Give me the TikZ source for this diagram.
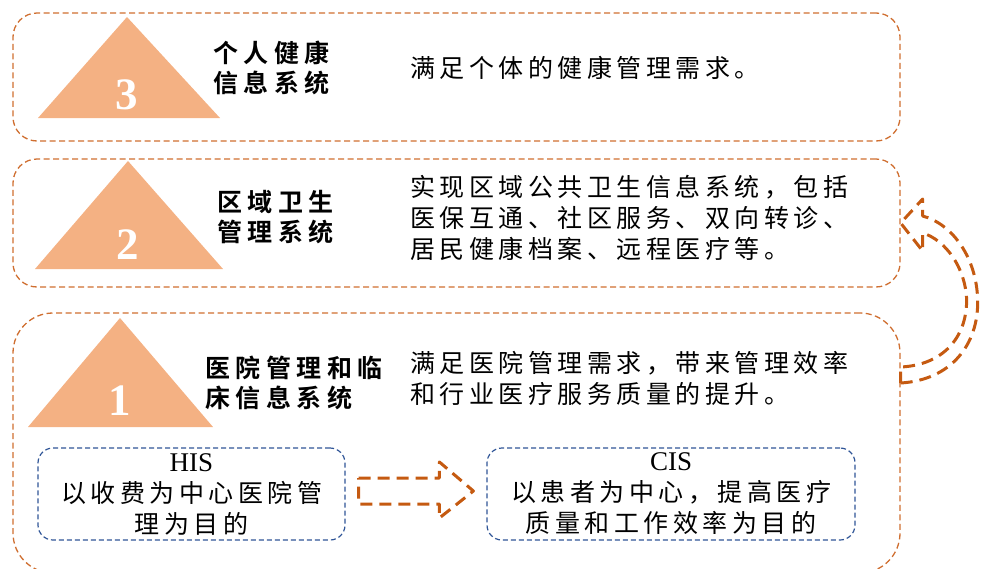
\documentclass[tikz,border=0pt]{standalone}
\usepackage{fontspec}
\setmainfont{Liberation Serif}
\newfontfamily\cjk[LetterSpace=18,BoldFont={Noto Sans CJK SC Bold}]{Noto Sans CJK SC}
\usetikzlibrary{calc}
\definecolor{boxline}{RGB}{207,110,48}
\definecolor{arrowline}{RGB}{197,90,17}
\definecolor{trifill}{RGB}{244,177,131}
\definecolor{blueline}{RGB}{47,85,151}

\begin{document}
\begin{tikzpicture}[x=1pt,y=-1pt,
  lvlbox/.style={draw=boxline,line width=1.3pt,dash pattern=on 6pt off 3.5pt,rounded corners=24pt},
  infobox/.style={draw=blueline,line width=1.2pt,dash pattern=on 5pt off 3pt,rounded corners=15pt,
    align=center,inner sep=0pt,font=\fontsize{27}{31}\selectfont},
  tri/.style={fill=trifill},
  num/.style={text=white,inner sep=0pt,font=\fontsize{45}{45}\selectfont\bfseries},
  title/.style={anchor=west,align=left,inner sep=0pt,font=\cjk\bfseries\addfontfeature{LetterSpace=22}\fontsize{25}{30}\selectfont},
  desc/.style={anchor=west,align=left,inner sep=0pt,font=\cjk\fontsize{25}{31}\selectfont},
  blockarrow/.style={draw=arrowline,line width=3pt,dash pattern=on 12pt off 7pt,line join=round}]

\useasboundingbox (0,0) rectangle (984,568);

% the three levels
\node [lvlbox,minimum width=887pt,minimum height=128pt] (lvl3) at (456.5,77) {};
\node [lvlbox,minimum width=887pt,minimum height=128pt] (lvl2) at (456.5,223) {};
\node [lvlbox,rounded corners=40pt,minimum width=887pt,minimum height=260pt] (lvl1) at (456.5,443) {};

\fill [tri] (38,118) -- (127,17) -- (220,118) -- cycle;
\fill [tri] (35,269) -- (128,161) -- (223,269) -- cycle;
\fill [tri] (28,427) -- (120,318) -- (213,427) -- cycle;

\node [num] (n3) at (127,95) {3};
\node [num] (n2) at (128,245) {2};
\node [num] (n1) at (120,401) {1};

\node [title] (t3) at (213,68) {个人健康\\信息系统};
\node [title] (t2) at (217,217) {区域卫生\\管理系统};
\node [title] (t1) at (205,383) {医院管理和临\\床信息系统};

\node [desc] (d3) at (410,68) {满足个体的健康管理需求。};
\node [desc] (d2) at (410,218) {实现区域公共卫生信息系统，包括\\医保互通、社区服务、双向转诊、\\居民健康档案、远程医疗等。};
\node [desc] (d1) at (410,378) {满足医院管理需求，带来管理效率\\和行业医疗服务质量的提升。};

% HIS and CIS
\node [infobox,minimum width=307pt,minimum height=92pt] (his) at (191.5,494)
  {HIS\\{\cjk\fontsize{25}{31}\selectfont 以收费为中心医院管}\\{\cjk\fontsize{25}{31}\selectfont 理为目的}};
\node [infobox,minimum width=368pt,minimum height=92pt] (cis) at (671,494)
  {CIS\\{\cjk\fontsize{25}{31}\selectfont 以患者为中心，提高医疗}\\{\cjk\fontsize{25}{31}\selectfont 质量和工作效率为目的}};

% hollow arrows
\coordinate (hisout) at ([xshift=13pt,yshift=3pt]his.east);
\coordinate (cisin) at ([xshift=-13pt,yshift=3pt]cis.west);
\draw [blockarrow] ($(hisout)+(0,-13)$) -- ($(cisin)+(-34,-13)$) -- ($(cisin)+(-34,-29)$) -- (cisin)
  -- ($(cisin)+(-34,27)$) -- ($(cisin)+(-34,13)$) -- ($(hisout)+(0,13)$) -- cycle;

\coordinate (tail) at ([yshift=68pt]lvl1.east);
\coordinate (tip) at (lvl2.east);
\draw [blockarrow] ($(tail)+(0,8)$) .. controls +(50,-3) and +(1,45) .. ($(tail)+(77,-75)$)
  .. controls +(-1,-42) and +(30,8) .. ($(tip)+(22,-7)$) -- ($(tip)+(22,-24)$) -- (tip)
  -- ($(tip)+(22,28)$) -- ($(tip)+(22,10)$) .. controls +(23,7) and +(-1,-32) .. ($(tail)+(66,-75)$)
  .. controls +(0,38) and +(42,-2) .. ($(tail)+(0,-8)$) -- cycle;

\end{tikzpicture}
\end{document}
